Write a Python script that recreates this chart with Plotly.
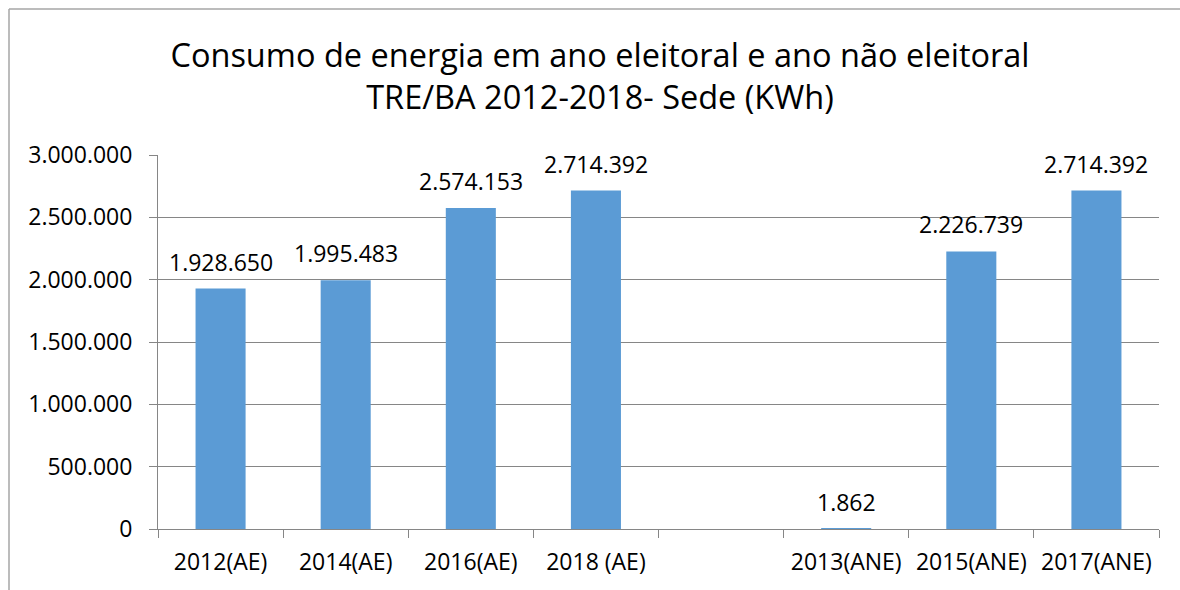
import plotly.graph_objects as go

categories = ["2012(AE)", "2014(AE)", "2016(AE)", "2018 (AE)", " ", "2013(ANE)", "2015(ANE)", "2017(ANE)"]
values = [1928650, 1995483, 2574153, 2714392, None, 1862, 2226739, 2714392]
y_ticks = [0, 500000, 1000000, 1500000, 2000000, 2500000, 3000000]

title_text = "Consumo de energia em ano eleitoral e ano não eleitoral<br>TRE/BA 2012-2018- Sede (KWh)"

FONT = "Open Sans"
GRID = "#868686"
W, H = 1180, 590
ML, MT = 158, 155
MR = W - 1159
MB = H - 529
pw, ph = W - ML - MR, H - MT - MB

fig = go.Figure()
fig.add_trace(go.Bar(x=categories, y=values, marker=dict(color="#5B9BD5", line=dict(width=0)),
                     hoverinfo="x+y"))

for c, v in zip(categories, values):
    if v is None:
        continue
    label = f"{v:,}".replace(",", ".")
    fig.add_annotation(x=c, y=v, text=label, showarrow=False, yanchor="middle", yshift=27,
                       font=dict(family=FONT, size=23, color="#000000"))

# outer chart border (only left and top edges fall inside the picture)
bx0 = (9 - ML) / pw
by1 = 1 + (MT - 9) / ph
fig.add_shape(type="line", xref="paper", yref="paper", x0=bx0, x1=bx0, y0=by1, y1=-1,
              line=dict(color="#A6A6A6", width=1.5), layer="below")
fig.add_shape(type="line", xref="paper", yref="paper", x0=bx0, x1=1.5, y0=by1, y1=by1,
              line=dict(color="#A6A6A6", width=1.5), layer="below")

fig.update_layout(
    width=W, height=H,
    margin=dict(l=ML, r=MR, t=MT, b=MB, autoexpand=False),
    paper_bgcolor="white", plot_bgcolor="white",
    separators=",.",
    bargap=0.6,
    showlegend=False,
    title=dict(text=title_text, x=600 / W, xanchor="center", xref="container",
               y=1 - 67 / H, yanchor="middle", yref="container",
               font=dict(family=FONT, size=32.5, color="#000000")),
    font=dict(family=FONT, size=23, color="#000000"),
)
fig.update_xaxes(type="category", categoryorder="array", categoryarray=categories,
                 showline=True, linecolor=GRID, linewidth=1,
                 ticks="outside", tickson="boundaries", ticklen=8, tickcolor=GRID,
                 tickfont=dict(family=FONT, size=23, color="#000000"),
                 ticklabelstandoff=12, showgrid=False, automargin=False)
fig.update_yaxes(range=[0, 3000000], tickvals=y_ticks, tickformat=",d",
                 showgrid=True, gridcolor=GRID, gridwidth=1,
                 showline=True, linecolor=GRID, linewidth=1,
                 ticks="outside", ticklen=8, tickcolor=GRID,
                 tickfont=dict(family=FONT, size=23, color="#000000"),
                 ticklabelstandoff=12, zeroline=False, automargin=False)

fig.write_html("out.html", config={"displayModeBar": False},
               post_script="document.body.style.margin='0';document.body.style.overflow='hidden';")
